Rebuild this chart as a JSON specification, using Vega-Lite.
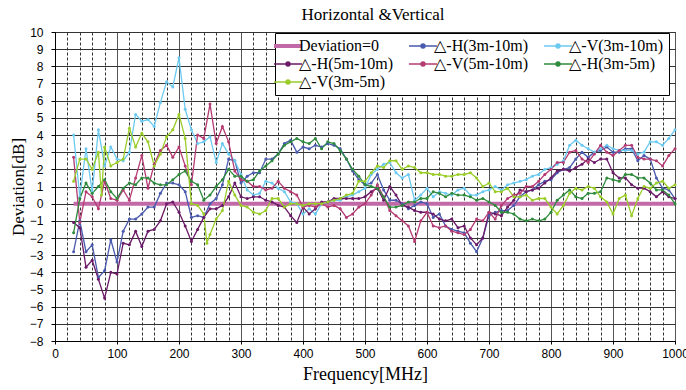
{
"$schema": "https://vega.github.io/schema/vega-lite/v6.json",
"width": 620,
"height": 309,
"autosize": {"type": "none"},
"padding": {"left": 55, "top": 32, "right": 11, "bottom": 49},
"background": "white",
"title": {"text": "Horizontal &Vertical", "font": "Liberation Serif, DejaVu Serif, serif", "fontSize": 17, "fontWeight": "normal", "color": "#000", "anchor": "middle", "offset": 2, "dx": 8},
"config": {
  "view": {"stroke": "#444", "strokeWidth": 1},
  "axis": {"domainColor": "#000", "tickColor": "#000", "labelColor": "#000", "titleColor": "#000", "titleFontWeight": "normal"}
},
"datasets": {
  "zero": [
    {"f": 30, "s": "Deviation=0", "d": 0},
    {"f": 1000, "s": "Deviation=0", "d": 0}
  ],
  "meas": [
{"f":30,"s":"△-H(3m-10m)","d":-2.8},{"f":40,"s":"△-H(3m-10m)","d":-1.0},{"f":50,"s":"△-H(3m-10m)","d":-2.8},{"f":60,"s":"△-H(3m-10m)","d":-2.4},{"f":70,"s":"△-H(3m-10m)","d":-4.3},{"f":80,"s":"△-H(3m-10m)","d":-3.9},{"f":90,"s":"△-H(3m-10m)","d":-2.1},{"f":100,"s":"△-H(3m-10m)","d":-3.4},
{"f":110,"s":"△-H(3m-10m)","d":-1.6},{"f":120,"s":"△-H(3m-10m)","d":-0.9},{"f":130,"s":"△-H(3m-10m)","d":-0.9},{"f":140,"s":"△-H(3m-10m)","d":-0.6},{"f":150,"s":"△-H(3m-10m)","d":-0.2},{"f":160,"s":"△-H(3m-10m)","d":-0.2},{"f":170,"s":"△-H(3m-10m)","d":0.6},{"f":180,"s":"△-H(3m-10m)","d":1.2},{"f":190,"s":"△-H(3m-10m)","d":1.2},{"f":200,"s":"△-H(3m-10m)","d":1.1},
{"f":210,"s":"△-H(3m-10m)","d":0.7},{"f":220,"s":"△-H(3m-10m)","d":-0.8},{"f":230,"s":"△-H(3m-10m)","d":-0.7},{"f":240,"s":"△-H(3m-10m)","d":-0.8},{"f":250,"s":"△-H(3m-10m)","d":0.0},{"f":260,"s":"△-H(3m-10m)","d":0.3},{"f":270,"s":"△-H(3m-10m)","d":1.1},{"f":280,"s":"△-H(3m-10m)","d":2.6},{"f":290,"s":"△-H(3m-10m)","d":2.5},{"f":300,"s":"△-H(3m-10m)","d":1.2},
{"f":310,"s":"△-H(3m-10m)","d":1.6},{"f":320,"s":"△-H(3m-10m)","d":1.8},{"f":330,"s":"△-H(3m-10m)","d":1.8},{"f":340,"s":"△-H(3m-10m)","d":2.6},{"f":350,"s":"△-H(3m-10m)","d":2.6},{"f":360,"s":"△-H(3m-10m)","d":2.9},{"f":370,"s":"△-H(3m-10m)","d":3.5},{"f":380,"s":"△-H(3m-10m)","d":3.7},{"f":390,"s":"△-H(3m-10m)","d":3.0},{"f":400,"s":"△-H(3m-10m)","d":3.3},
{"f":410,"s":"△-H(3m-10m)","d":3.2},{"f":420,"s":"△-H(3m-10m)","d":3.4},{"f":430,"s":"△-H(3m-10m)","d":3.3},{"f":440,"s":"△-H(3m-10m)","d":3.5},{"f":450,"s":"△-H(3m-10m)","d":3.4},{"f":460,"s":"△-H(3m-10m)","d":3.2},{"f":470,"s":"△-H(3m-10m)","d":2.6},{"f":480,"s":"△-H(3m-10m)","d":1.9},{"f":490,"s":"△-H(3m-10m)","d":1.4},{"f":500,"s":"△-H(3m-10m)","d":1.1},
{"f":510,"s":"△-H(3m-10m)","d":1.2},{"f":520,"s":"△-H(3m-10m)","d":1.7},{"f":530,"s":"△-H(3m-10m)","d":0.8},{"f":540,"s":"△-H(3m-10m)","d":0.2},{"f":550,"s":"△-H(3m-10m)","d":0.2},{"f":560,"s":"△-H(3m-10m)","d":0.0},{"f":570,"s":"△-H(3m-10m)","d":-0.3},{"f":580,"s":"△-H(3m-10m)","d":-0.1},{"f":590,"s":"△-H(3m-10m)","d":0.1},{"f":600,"s":"△-H(3m-10m)","d":0.0},
{"f":610,"s":"△-H(3m-10m)","d":-0.8},{"f":620,"s":"△-H(3m-10m)","d":-0.6},{"f":630,"s":"△-H(3m-10m)","d":-1.3},{"f":640,"s":"△-H(3m-10m)","d":-1.5},{"f":650,"s":"△-H(3m-10m)","d":-1.6},{"f":660,"s":"△-H(3m-10m)","d":-1.7},{"f":670,"s":"△-H(3m-10m)","d":-2.3},{"f":680,"s":"△-H(3m-10m)","d":-2.8},{"f":690,"s":"△-H(3m-10m)","d":-2.0},{"f":700,"s":"△-H(3m-10m)","d":-0.7},
{"f":710,"s":"△-H(3m-10m)","d":-0.5},{"f":720,"s":"△-H(3m-10m)","d":-0.4},{"f":730,"s":"△-H(3m-10m)","d":-0.4},{"f":740,"s":"△-H(3m-10m)","d":-0.1},{"f":750,"s":"△-H(3m-10m)","d":0.4},{"f":760,"s":"△-H(3m-10m)","d":0.7},{"f":770,"s":"△-H(3m-10m)","d":0.8},{"f":780,"s":"△-H(3m-10m)","d":1.1},{"f":790,"s":"△-H(3m-10m)","d":1.3},{"f":800,"s":"△-H(3m-10m)","d":1.4},
{"f":810,"s":"△-H(3m-10m)","d":1.8},{"f":820,"s":"△-H(3m-10m)","d":2.0},{"f":830,"s":"△-H(3m-10m)","d":2.1},{"f":840,"s":"△-H(3m-10m)","d":2.6},{"f":850,"s":"△-H(3m-10m)","d":3.0},{"f":860,"s":"△-H(3m-10m)","d":2.7},{"f":870,"s":"△-H(3m-10m)","d":3.0},{"f":880,"s":"△-H(3m-10m)","d":3.1},{"f":890,"s":"△-H(3m-10m)","d":3.3},{"f":900,"s":"△-H(3m-10m)","d":3.0},
{"f":910,"s":"△-H(3m-10m)","d":3.0},{"f":920,"s":"△-H(3m-10m)","d":3.2},{"f":930,"s":"△-H(3m-10m)","d":3.2},{"f":940,"s":"△-H(3m-10m)","d":2.5},{"f":950,"s":"△-H(3m-10m)","d":2.8},{"f":960,"s":"△-H(3m-10m)","d":2.6},{"f":970,"s":"△-H(3m-10m)","d":1.5},{"f":980,"s":"△-H(3m-10m)","d":0.9},{"f":990,"s":"△-H(3m-10m)","d":0.8},{"f":1000,"s":"△-H(3m-10m)","d":0.3},

{"f":30,"s":"△-V(3m-10m)","d":4.0},{"f":40,"s":"△-V(3m-10m)","d":0.4},{"f":50,"s":"△-V(3m-10m)","d":3.2},{"f":60,"s":"△-V(3m-10m)","d":0.7},{"f":70,"s":"△-V(3m-10m)","d":4.3},{"f":80,"s":"△-V(3m-10m)","d":2.2},{"f":90,"s":"△-V(3m-10m)","d":3.3},{"f":100,"s":"△-V(3m-10m)","d":2.6},
{"f":110,"s":"△-V(3m-10m)","d":2.5},{"f":120,"s":"△-V(3m-10m)","d":3.0},{"f":130,"s":"△-V(3m-10m)","d":5.2},{"f":140,"s":"△-V(3m-10m)","d":4.8},{"f":150,"s":"△-V(3m-10m)","d":4.9},{"f":160,"s":"△-V(3m-10m)","d":4.5},{"f":170,"s":"△-V(3m-10m)","d":5.9},{"f":180,"s":"△-V(3m-10m)","d":7.1},{"f":190,"s":"△-V(3m-10m)","d":6.8},{"f":200,"s":"△-V(3m-10m)","d":8.5},
{"f":210,"s":"△-V(3m-10m)","d":5.5},{"f":220,"s":"△-V(3m-10m)","d":4.3},{"f":230,"s":"△-V(3m-10m)","d":3.5},{"f":240,"s":"△-V(3m-10m)","d":3.6},{"f":250,"s":"△-V(3m-10m)","d":3.9},{"f":260,"s":"△-V(3m-10m)","d":2.4},{"f":270,"s":"△-V(3m-10m)","d":3.5},{"f":280,"s":"△-V(3m-10m)","d":2.9},{"f":290,"s":"△-V(3m-10m)","d":2.5},{"f":300,"s":"△-V(3m-10m)","d":1.7},
{"f":310,"s":"△-V(3m-10m)","d":0.8},{"f":320,"s":"△-V(3m-10m)","d":0.5},{"f":330,"s":"△-V(3m-10m)","d":0.6},{"f":340,"s":"△-V(3m-10m)","d":1.3},{"f":350,"s":"△-V(3m-10m)","d":1.2},{"f":360,"s":"△-V(3m-10m)","d":0.9},{"f":370,"s":"△-V(3m-10m)","d":0.7},{"f":380,"s":"△-V(3m-10m)","d":0.1},{"f":390,"s":"△-V(3m-10m)","d":0.0},{"f":400,"s":"△-V(3m-10m)","d":-0.6},
{"f":410,"s":"△-V(3m-10m)","d":-0.3},{"f":420,"s":"△-V(3m-10m)","d":-0.6},{"f":430,"s":"△-V(3m-10m)","d":0.0},{"f":440,"s":"△-V(3m-10m)","d":0.1},{"f":450,"s":"△-V(3m-10m)","d":0.2},{"f":460,"s":"△-V(3m-10m)","d":0.2},{"f":470,"s":"△-V(3m-10m)","d":0.4},{"f":480,"s":"△-V(3m-10m)","d":0.5},{"f":490,"s":"△-V(3m-10m)","d":0.7},{"f":500,"s":"△-V(3m-10m)","d":0.9},
{"f":510,"s":"△-V(3m-10m)","d":1.7},{"f":520,"s":"△-V(3m-10m)","d":2.0},{"f":530,"s":"△-V(3m-10m)","d":2.3},{"f":540,"s":"△-V(3m-10m)","d":2.4},{"f":550,"s":"△-V(3m-10m)","d":1.8},{"f":560,"s":"△-V(3m-10m)","d":1.5},{"f":570,"s":"△-V(3m-10m)","d":1.7},{"f":580,"s":"△-V(3m-10m)","d":0.2},{"f":590,"s":"△-V(3m-10m)","d":0.5},{"f":600,"s":"△-V(3m-10m)","d":0.9},
{"f":610,"s":"△-V(3m-10m)","d":0.4},{"f":620,"s":"△-V(3m-10m)","d":0.7},{"f":630,"s":"△-V(3m-10m)","d":0.6},{"f":640,"s":"△-V(3m-10m)","d":0.5},{"f":650,"s":"△-V(3m-10m)","d":0.8},{"f":660,"s":"△-V(3m-10m)","d":0.9},{"f":670,"s":"△-V(3m-10m)","d":0.5},{"f":680,"s":"△-V(3m-10m)","d":0.5},{"f":690,"s":"△-V(3m-10m)","d":0.7},{"f":700,"s":"△-V(3m-10m)","d":0.8},
{"f":710,"s":"△-V(3m-10m)","d":1.0},{"f":720,"s":"△-V(3m-10m)","d":0.8},{"f":730,"s":"△-V(3m-10m)","d":1.1},{"f":740,"s":"△-V(3m-10m)","d":1.2},{"f":750,"s":"△-V(3m-10m)","d":1.3},{"f":760,"s":"△-V(3m-10m)","d":1.4},{"f":770,"s":"△-V(3m-10m)","d":1.6},{"f":780,"s":"△-V(3m-10m)","d":1.7},{"f":790,"s":"△-V(3m-10m)","d":2.0},{"f":800,"s":"△-V(3m-10m)","d":2.1},
{"f":810,"s":"△-V(3m-10m)","d":2.3},{"f":820,"s":"△-V(3m-10m)","d":2.5},{"f":830,"s":"△-V(3m-10m)","d":3.4},{"f":840,"s":"△-V(3m-10m)","d":3.7},{"f":850,"s":"△-V(3m-10m)","d":3.4},{"f":860,"s":"△-V(3m-10m)","d":3.2},{"f":870,"s":"△-V(3m-10m)","d":3.0},{"f":880,"s":"△-V(3m-10m)","d":3.2},{"f":890,"s":"△-V(3m-10m)","d":3.4},{"f":900,"s":"△-V(3m-10m)","d":3.2},
{"f":910,"s":"△-V(3m-10m)","d":3.1},{"f":920,"s":"△-V(3m-10m)","d":3.1},{"f":930,"s":"△-V(3m-10m)","d":3.1},{"f":940,"s":"△-V(3m-10m)","d":2.9},{"f":950,"s":"△-V(3m-10m)","d":3.0},{"f":960,"s":"△-V(3m-10m)","d":3.6},{"f":970,"s":"△-V(3m-10m)","d":3.6},{"f":980,"s":"△-V(3m-10m)","d":3.4},{"f":990,"s":"△-V(3m-10m)","d":3.8},{"f":1000,"s":"△-V(3m-10m)","d":4.3},

{"f":30,"s":"△-H(5m-10m)","d":-1.1},{"f":40,"s":"△-H(5m-10m)","d":-1.4},{"f":50,"s":"△-H(5m-10m)","d":-3.7},{"f":60,"s":"△-H(5m-10m)","d":-3.3},{"f":70,"s":"△-H(5m-10m)","d":-4.4},{"f":80,"s":"△-H(5m-10m)","d":-5.5},{"f":90,"s":"△-H(5m-10m)","d":-4.0},{"f":100,"s":"△-H(5m-10m)","d":-4.1},
{"f":110,"s":"△-H(5m-10m)","d":-2.3},{"f":120,"s":"△-H(5m-10m)","d":-2.4},{"f":130,"s":"△-H(5m-10m)","d":-1.6},{"f":140,"s":"△-H(5m-10m)","d":-2.5},{"f":150,"s":"△-H(5m-10m)","d":-1.6},{"f":160,"s":"△-H(5m-10m)","d":-1.5},{"f":170,"s":"△-H(5m-10m)","d":-1.0},{"f":180,"s":"△-H(5m-10m)","d":0.0},{"f":190,"s":"△-H(5m-10m)","d":0.1},{"f":200,"s":"△-H(5m-10m)","d":-0.5},
{"f":210,"s":"△-H(5m-10m)","d":-1.3},{"f":220,"s":"△-H(5m-10m)","d":-2.2},{"f":230,"s":"△-H(5m-10m)","d":-1.5},{"f":240,"s":"△-H(5m-10m)","d":-0.8},{"f":250,"s":"△-H(5m-10m)","d":-0.3},{"f":260,"s":"△-H(5m-10m)","d":-0.3},{"f":270,"s":"△-H(5m-10m)","d":-0.1},{"f":280,"s":"△-H(5m-10m)","d":0.4},{"f":290,"s":"△-H(5m-10m)","d":1.2},{"f":300,"s":"△-H(5m-10m)","d":0.4},
{"f":310,"s":"△-H(5m-10m)","d":0.3},{"f":320,"s":"△-H(5m-10m)","d":0.4},{"f":330,"s":"△-H(5m-10m)","d":0.4},{"f":340,"s":"△-H(5m-10m)","d":0.2},{"f":350,"s":"△-H(5m-10m)","d":0.1},{"f":360,"s":"△-H(5m-10m)","d":-0.1},{"f":370,"s":"△-H(5m-10m)","d":-0.2},{"f":380,"s":"△-H(5m-10m)","d":-0.7},{"f":390,"s":"△-H(5m-10m)","d":-1.1},{"f":400,"s":"△-H(5m-10m)","d":-0.2},
{"f":410,"s":"△-H(5m-10m)","d":-0.6},{"f":420,"s":"△-H(5m-10m)","d":-0.3},{"f":430,"s":"△-H(5m-10m)","d":0.1},{"f":440,"s":"△-H(5m-10m)","d":0.1},{"f":450,"s":"△-H(5m-10m)","d":0.3},{"f":460,"s":"△-H(5m-10m)","d":0.3},{"f":470,"s":"△-H(5m-10m)","d":0.3},{"f":480,"s":"△-H(5m-10m)","d":0.3},{"f":490,"s":"△-H(5m-10m)","d":0.3},{"f":500,"s":"△-H(5m-10m)","d":0.4},
{"f":510,"s":"△-H(5m-10m)","d":0.7},{"f":520,"s":"△-H(5m-10m)","d":0.9},{"f":530,"s":"△-H(5m-10m)","d":0.2},{"f":540,"s":"△-H(5m-10m)","d":1.0},{"f":550,"s":"△-H(5m-10m)","d":0.5},{"f":560,"s":"△-H(5m-10m)","d":-0.1},{"f":570,"s":"△-H(5m-10m)","d":-0.2},{"f":580,"s":"△-H(5m-10m)","d":-0.4},{"f":590,"s":"△-H(5m-10m)","d":-0.5},{"f":600,"s":"△-H(5m-10m)","d":-0.5},
{"f":610,"s":"△-H(5m-10m)","d":-0.6},{"f":620,"s":"△-H(5m-10m)","d":-0.9},{"f":630,"s":"△-H(5m-10m)","d":-1.0},{"f":640,"s":"△-H(5m-10m)","d":-0.9},{"f":650,"s":"△-H(5m-10m)","d":-1.4},{"f":660,"s":"△-H(5m-10m)","d":-1.3},{"f":670,"s":"△-H(5m-10m)","d":-2.0},{"f":680,"s":"△-H(5m-10m)","d":-2.4},{"f":690,"s":"△-H(5m-10m)","d":-2.0},{"f":700,"s":"△-H(5m-10m)","d":-0.5},
{"f":710,"s":"△-H(5m-10m)","d":-0.6},{"f":720,"s":"△-H(5m-10m)","d":-0.7},{"f":730,"s":"△-H(5m-10m)","d":-0.2},{"f":740,"s":"△-H(5m-10m)","d":0.2},{"f":750,"s":"△-H(5m-10m)","d":0.8},{"f":760,"s":"△-H(5m-10m)","d":0.7},{"f":770,"s":"△-H(5m-10m)","d":0.8},{"f":780,"s":"△-H(5m-10m)","d":0.9},{"f":790,"s":"△-H(5m-10m)","d":1.2},{"f":800,"s":"△-H(5m-10m)","d":1.5},
{"f":810,"s":"△-H(5m-10m)","d":1.9},{"f":820,"s":"△-H(5m-10m)","d":2.0},{"f":830,"s":"△-H(5m-10m)","d":1.9},{"f":840,"s":"△-H(5m-10m)","d":2.1},{"f":850,"s":"△-H(5m-10m)","d":2.3},{"f":860,"s":"△-H(5m-10m)","d":2.6},{"f":870,"s":"△-H(5m-10m)","d":2.4},{"f":880,"s":"△-H(5m-10m)","d":2.6},{"f":890,"s":"△-H(5m-10m)","d":2.6},{"f":900,"s":"△-H(5m-10m)","d":1.8},
{"f":910,"s":"△-H(5m-10m)","d":1.5},{"f":920,"s":"△-H(5m-10m)","d":1.5},{"f":930,"s":"△-H(5m-10m)","d":1.1},{"f":940,"s":"△-H(5m-10m)","d":0.9},{"f":950,"s":"△-H(5m-10m)","d":0.9},{"f":960,"s":"△-H(5m-10m)","d":0.7},{"f":970,"s":"△-H(5m-10m)","d":0.4},{"f":980,"s":"△-H(5m-10m)","d":0.7},{"f":990,"s":"△-H(5m-10m)","d":0.4},{"f":1000,"s":"△-H(5m-10m)","d":0.3},

{"f":30,"s":"△-V(5m-10m)","d":2.7},{"f":40,"s":"△-V(5m-10m)","d":-1.1},{"f":50,"s":"△-V(5m-10m)","d":0.7},{"f":60,"s":"△-V(5m-10m)","d":0.4},{"f":70,"s":"△-V(5m-10m)","d":-0.3},{"f":80,"s":"△-V(5m-10m)","d":1.3},{"f":90,"s":"△-V(5m-10m)","d":0.3},{"f":100,"s":"△-V(5m-10m)","d":0.2},
{"f":110,"s":"△-V(5m-10m)","d":0.8},{"f":120,"s":"△-V(5m-10m)","d":0.2},{"f":130,"s":"△-V(5m-10m)","d":1.5},{"f":140,"s":"△-V(5m-10m)","d":2.8},{"f":150,"s":"△-V(5m-10m)","d":0.9},{"f":160,"s":"△-V(5m-10m)","d":2.3},{"f":170,"s":"△-V(5m-10m)","d":3.1},{"f":180,"s":"△-V(5m-10m)","d":3.4},{"f":190,"s":"△-V(5m-10m)","d":2.7},{"f":200,"s":"△-V(5m-10m)","d":3.3},
{"f":210,"s":"△-V(5m-10m)","d":2.2},{"f":220,"s":"△-V(5m-10m)","d":1.1},{"f":230,"s":"△-V(5m-10m)","d":4.0},{"f":240,"s":"△-V(5m-10m)","d":3.8},{"f":250,"s":"△-V(5m-10m)","d":5.8},{"f":260,"s":"△-V(5m-10m)","d":3.5},{"f":270,"s":"△-V(5m-10m)","d":4.5},{"f":280,"s":"△-V(5m-10m)","d":3.6},{"f":290,"s":"△-V(5m-10m)","d":1.9},{"f":300,"s":"△-V(5m-10m)","d":1.4},
{"f":310,"s":"△-V(5m-10m)","d":1.3},{"f":320,"s":"△-V(5m-10m)","d":1.0},{"f":330,"s":"△-V(5m-10m)","d":1.0},{"f":340,"s":"△-V(5m-10m)","d":0.8},{"f":350,"s":"△-V(5m-10m)","d":0.9},{"f":360,"s":"△-V(5m-10m)","d":1.3},{"f":370,"s":"△-V(5m-10m)","d":0.9},{"f":380,"s":"△-V(5m-10m)","d":0.7},{"f":390,"s":"△-V(5m-10m)","d":0.5},{"f":400,"s":"△-V(5m-10m)","d":-0.2},
{"f":410,"s":"△-V(5m-10m)","d":-0.1},{"f":420,"s":"△-V(5m-10m)","d":-0.2},{"f":430,"s":"△-V(5m-10m)","d":0.0},{"f":440,"s":"△-V(5m-10m)","d":-0.2},{"f":450,"s":"△-V(5m-10m)","d":-0.1},{"f":460,"s":"△-V(5m-10m)","d":-0.3},{"f":470,"s":"△-V(5m-10m)","d":-0.8},{"f":480,"s":"△-V(5m-10m)","d":-0.6},{"f":490,"s":"△-V(5m-10m)","d":-0.2},{"f":500,"s":"△-V(5m-10m)","d":0.0},
{"f":510,"s":"△-V(5m-10m)","d":0.5},{"f":520,"s":"△-V(5m-10m)","d":1.1},{"f":530,"s":"△-V(5m-10m)","d":0.4},{"f":540,"s":"△-V(5m-10m)","d":-0.4},{"f":550,"s":"△-V(5m-10m)","d":-0.7},{"f":560,"s":"△-V(5m-10m)","d":-1.0},{"f":570,"s":"△-V(5m-10m)","d":-1.3},{"f":580,"s":"△-V(5m-10m)","d":-2.2},{"f":590,"s":"△-V(5m-10m)","d":-1.0},{"f":600,"s":"△-V(5m-10m)","d":-0.5},
{"f":610,"s":"△-V(5m-10m)","d":-1.3},{"f":620,"s":"△-V(5m-10m)","d":-1.4},{"f":630,"s":"△-V(5m-10m)","d":-1.3},{"f":640,"s":"△-V(5m-10m)","d":-1.6},{"f":650,"s":"△-V(5m-10m)","d":-1.7},{"f":660,"s":"△-V(5m-10m)","d":-1.8},{"f":670,"s":"△-V(5m-10m)","d":-1.5},{"f":680,"s":"△-V(5m-10m)","d":-0.9},{"f":690,"s":"△-V(5m-10m)","d":-1.0},{"f":700,"s":"△-V(5m-10m)","d":-0.5},
{"f":710,"s":"△-V(5m-10m)","d":-0.9},{"f":720,"s":"△-V(5m-10m)","d":-0.1},{"f":730,"s":"△-V(5m-10m)","d":0.3},{"f":740,"s":"△-V(5m-10m)","d":0.5},{"f":750,"s":"△-V(5m-10m)","d":0.6},{"f":760,"s":"△-V(5m-10m)","d":1.0},{"f":770,"s":"△-V(5m-10m)","d":1.0},{"f":780,"s":"△-V(5m-10m)","d":1.3},{"f":790,"s":"△-V(5m-10m)","d":1.7},{"f":800,"s":"△-V(5m-10m)","d":2.0},
{"f":810,"s":"△-V(5m-10m)","d":2.4},{"f":820,"s":"△-V(5m-10m)","d":2.4},{"f":830,"s":"△-V(5m-10m)","d":3.0},{"f":840,"s":"△-V(5m-10m)","d":3.1},{"f":850,"s":"△-V(5m-10m)","d":2.6},{"f":860,"s":"△-V(5m-10m)","d":2.4},{"f":870,"s":"△-V(5m-10m)","d":2.9},{"f":880,"s":"△-V(5m-10m)","d":3.4},{"f":890,"s":"△-V(5m-10m)","d":3.0},{"f":900,"s":"△-V(5m-10m)","d":2.8},
{"f":910,"s":"△-V(5m-10m)","d":3.1},{"f":920,"s":"△-V(5m-10m)","d":3.4},{"f":930,"s":"△-V(5m-10m)","d":3.4},{"f":940,"s":"△-V(5m-10m)","d":2.7},{"f":950,"s":"△-V(5m-10m)","d":2.6},{"f":960,"s":"△-V(5m-10m)","d":2.6},{"f":970,"s":"△-V(5m-10m)","d":2.5},{"f":980,"s":"△-V(5m-10m)","d":2.2},{"f":990,"s":"△-V(5m-10m)","d":2.8},{"f":1000,"s":"△-V(5m-10m)","d":3.2},

{"f":30,"s":"△-H(3m-5m)","d":-1.7},{"f":40,"s":"△-H(3m-5m)","d":0.3},{"f":50,"s":"△-H(3m-5m)","d":1.2},{"f":60,"s":"△-H(3m-5m)","d":0.6},{"f":70,"s":"△-H(3m-5m)","d":1.0},{"f":80,"s":"△-H(3m-5m)","d":1.4},{"f":90,"s":"△-H(3m-5m)","d":0.7},{"f":100,"s":"△-H(3m-5m)","d":0.3},
{"f":110,"s":"△-H(3m-5m)","d":0.9},{"f":120,"s":"△-H(3m-5m)","d":1.2},{"f":130,"s":"△-H(3m-5m)","d":1.1},{"f":140,"s":"△-H(3m-5m)","d":1.5},{"f":150,"s":"△-H(3m-5m)","d":1.5},{"f":160,"s":"△-H(3m-5m)","d":1.2},{"f":170,"s":"△-H(3m-5m)","d":1.1},{"f":180,"s":"△-H(3m-5m)","d":1.1},{"f":190,"s":"△-H(3m-5m)","d":1.4},{"f":200,"s":"△-H(3m-5m)","d":1.7},
{"f":210,"s":"△-H(3m-5m)","d":1.9},{"f":220,"s":"△-H(3m-5m)","d":1.3},{"f":230,"s":"△-H(3m-5m)","d":1.1},{"f":240,"s":"△-H(3m-5m)","d":0.2},{"f":250,"s":"△-H(3m-5m)","d":0.5},{"f":260,"s":"△-H(3m-5m)","d":1.0},{"f":270,"s":"△-H(3m-5m)","d":1.4},{"f":280,"s":"△-H(3m-5m)","d":2.0},{"f":290,"s":"△-H(3m-5m)","d":1.6},{"f":300,"s":"△-H(3m-5m)","d":1.6},
{"f":310,"s":"△-H(3m-5m)","d":1.3},{"f":320,"s":"△-H(3m-5m)","d":1.4},{"f":330,"s":"△-H(3m-5m)","d":1.9},{"f":340,"s":"△-H(3m-5m)","d":2.2},{"f":350,"s":"△-H(3m-5m)","d":2.5},{"f":360,"s":"△-H(3m-5m)","d":2.9},{"f":370,"s":"△-H(3m-5m)","d":3.4},{"f":380,"s":"△-H(3m-5m)","d":3.6},{"f":390,"s":"△-H(3m-5m)","d":3.8},{"f":400,"s":"△-H(3m-5m)","d":3.6},
{"f":410,"s":"△-H(3m-5m)","d":3.5},{"f":420,"s":"△-H(3m-5m)","d":3.8},{"f":430,"s":"△-H(3m-5m)","d":3.2},{"f":440,"s":"△-H(3m-5m)","d":3.6},{"f":450,"s":"△-H(3m-5m)","d":3.5},{"f":460,"s":"△-H(3m-5m)","d":3.1},{"f":470,"s":"△-H(3m-5m)","d":2.6},{"f":480,"s":"△-H(3m-5m)","d":2.0},{"f":490,"s":"△-H(3m-5m)","d":1.6},{"f":500,"s":"△-H(3m-5m)","d":1.1},
{"f":510,"s":"△-H(3m-5m)","d":1.0},{"f":520,"s":"△-H(3m-5m)","d":0.9},{"f":530,"s":"△-H(3m-5m)","d":0.4},{"f":540,"s":"△-H(3m-5m)","d":-0.2},{"f":550,"s":"△-H(3m-5m)","d":-0.2},{"f":560,"s":"△-H(3m-5m)","d":-0.1},{"f":570,"s":"△-H(3m-5m)","d":0.1},{"f":580,"s":"△-H(3m-5m)","d":0.1},{"f":590,"s":"△-H(3m-5m)","d":0.3},{"f":600,"s":"△-H(3m-5m)","d":0.3},
{"f":610,"s":"△-H(3m-5m)","d":0.7},{"f":620,"s":"△-H(3m-5m)","d":0.6},{"f":630,"s":"△-H(3m-5m)","d":0.4},{"f":640,"s":"△-H(3m-5m)","d":0.6},{"f":650,"s":"△-H(3m-5m)","d":0.5},{"f":660,"s":"△-H(3m-5m)","d":0.5},{"f":670,"s":"△-H(3m-5m)","d":0.4},{"f":680,"s":"△-H(3m-5m)","d":0.2},{"f":690,"s":"△-H(3m-5m)","d":0.3},{"f":700,"s":"△-H(3m-5m)","d":0.1},
{"f":710,"s":"△-H(3m-5m)","d":-0.1},{"f":720,"s":"△-H(3m-5m)","d":-0.5},{"f":730,"s":"△-H(3m-5m)","d":-0.5},{"f":740,"s":"△-H(3m-5m)","d":-0.6},{"f":750,"s":"△-H(3m-5m)","d":-0.9},{"f":760,"s":"△-H(3m-5m)","d":-1.0},{"f":770,"s":"△-H(3m-5m)","d":-0.9},{"f":780,"s":"△-H(3m-5m)","d":-1.0},{"f":790,"s":"△-H(3m-5m)","d":-0.9},{"f":800,"s":"△-H(3m-5m)","d":-0.5},
{"f":810,"s":"△-H(3m-5m)","d":0.2},{"f":820,"s":"△-H(3m-5m)","d":0.5},{"f":830,"s":"△-H(3m-5m)","d":0.8},{"f":840,"s":"△-H(3m-5m)","d":0.4},{"f":850,"s":"△-H(3m-5m)","d":0.3},{"f":860,"s":"△-H(3m-5m)","d":0.6},{"f":870,"s":"△-H(3m-5m)","d":0.6},{"f":880,"s":"△-H(3m-5m)","d":0.7},{"f":890,"s":"△-H(3m-5m)","d":1.5},{"f":900,"s":"△-H(3m-5m)","d":1.4},
{"f":910,"s":"△-H(3m-5m)","d":1.3},{"f":920,"s":"△-H(3m-5m)","d":1.7},{"f":930,"s":"△-H(3m-5m)","d":1.7},{"f":940,"s":"△-H(3m-5m)","d":1.5},{"f":950,"s":"△-H(3m-5m)","d":1.5},{"f":960,"s":"△-H(3m-5m)","d":1.2},{"f":970,"s":"△-H(3m-5m)","d":0.8},{"f":980,"s":"△-H(3m-5m)","d":0.8},{"f":990,"s":"△-H(3m-5m)","d":0.5},{"f":1000,"s":"△-H(3m-5m)","d":0.0},

{"f":30,"s":"△-V(3m-5m)","d":1.3},{"f":40,"s":"△-V(3m-5m)","d":2.6},{"f":50,"s":"△-V(3m-5m)","d":2.6},{"f":60,"s":"△-V(3m-5m)","d":2.0},{"f":70,"s":"△-V(3m-5m)","d":3.0},{"f":75,"s":"△-V(3m-5m)","d":0.5},{"f":80,"s":"△-V(3m-5m)","d":3.3},{"f":90,"s":"△-V(3m-5m)","d":2.2},{"f":100,"s":"△-V(3m-5m)","d":2.4},
{"f":110,"s":"△-V(3m-5m)","d":2.6},{"f":120,"s":"△-V(3m-5m)","d":4.4},{"f":130,"s":"△-V(3m-5m)","d":3.3},{"f":140,"s":"△-V(3m-5m)","d":4.1},{"f":150,"s":"△-V(3m-5m)","d":3.6},{"f":160,"s":"△-V(3m-5m)","d":2.2},{"f":170,"s":"△-V(3m-5m)","d":2.9},{"f":180,"s":"△-V(3m-5m)","d":3.9},{"f":190,"s":"△-V(3m-5m)","d":4.3},{"f":200,"s":"△-V(3m-5m)","d":5.2},
{"f":210,"s":"△-V(3m-5m)","d":3.8},{"f":220,"s":"△-V(3m-5m)","d":0.0},{"f":230,"s":"△-V(3m-5m)","d":-0.1},{"f":240,"s":"△-V(3m-5m)","d":-0.6},{"f":245,"s":"△-V(3m-5m)","d":-2.3},{"f":250,"s":"△-V(3m-5m)","d":-1.8},{"f":260,"s":"△-V(3m-5m)","d":-0.9},{"f":270,"s":"△-V(3m-5m)","d":-0.4},{"f":280,"s":"△-V(3m-5m)","d":1.3},{"f":290,"s":"△-V(3m-5m)","d":0.5},{"f":300,"s":"△-V(3m-5m)","d":-0.1},
{"f":310,"s":"△-V(3m-5m)","d":-0.2},{"f":320,"s":"△-V(3m-5m)","d":-0.5},{"f":330,"s":"△-V(3m-5m)","d":-0.6},{"f":340,"s":"△-V(3m-5m)","d":-0.4},{"f":350,"s":"△-V(3m-5m)","d":0.3},{"f":360,"s":"△-V(3m-5m)","d":0.3},{"f":370,"s":"△-V(3m-5m)","d":-0.2},{"f":380,"s":"△-V(3m-5m)","d":0.0},{"f":390,"s":"△-V(3m-5m)","d":0.0},{"f":400,"s":"△-V(3m-5m)","d":-0.1},
{"f":410,"s":"△-V(3m-5m)","d":0.0},{"f":420,"s":"△-V(3m-5m)","d":0.0},{"f":430,"s":"△-V(3m-5m)","d":0.0},{"f":440,"s":"△-V(3m-5m)","d":0.1},{"f":450,"s":"△-V(3m-5m)","d":0.2},{"f":460,"s":"△-V(3m-5m)","d":0.3},{"f":470,"s":"△-V(3m-5m)","d":0.5},{"f":480,"s":"△-V(3m-5m)","d":0.6},{"f":490,"s":"△-V(3m-5m)","d":1.3},{"f":500,"s":"△-V(3m-5m)","d":1.3},
{"f":510,"s":"△-V(3m-5m)","d":1.8},{"f":520,"s":"△-V(3m-5m)","d":2.2},{"f":530,"s":"△-V(3m-5m)","d":2.1},{"f":540,"s":"△-V(3m-5m)","d":2.5},{"f":550,"s":"△-V(3m-5m)","d":2.5},{"f":560,"s":"△-V(3m-5m)","d":2.0},{"f":570,"s":"△-V(3m-5m)","d":2.2},{"f":580,"s":"△-V(3m-5m)","d":2.1},{"f":590,"s":"△-V(3m-5m)","d":1.8},{"f":600,"s":"△-V(3m-5m)","d":1.8},
{"f":610,"s":"△-V(3m-5m)","d":1.7},{"f":620,"s":"△-V(3m-5m)","d":1.7},{"f":630,"s":"△-V(3m-5m)","d":1.6},{"f":640,"s":"△-V(3m-5m)","d":1.6},{"f":650,"s":"△-V(3m-5m)","d":1.7},{"f":660,"s":"△-V(3m-5m)","d":1.7},{"f":670,"s":"△-V(3m-5m)","d":1.8},{"f":680,"s":"△-V(3m-5m)","d":1.5},{"f":690,"s":"△-V(3m-5m)","d":1.0},{"f":700,"s":"△-V(3m-5m)","d":1.2},
{"f":710,"s":"△-V(3m-5m)","d":0.7},{"f":720,"s":"△-V(3m-5m)","d":0.7},{"f":730,"s":"△-V(3m-5m)","d":0.9},{"f":740,"s":"△-V(3m-5m)","d":0.4},{"f":750,"s":"△-V(3m-5m)","d":0.4},{"f":760,"s":"△-V(3m-5m)","d":0.5},{"f":770,"s":"△-V(3m-5m)","d":0.2},{"f":780,"s":"△-V(3m-5m)","d":0.3},{"f":790,"s":"△-V(3m-5m)","d":0.3},{"f":800,"s":"△-V(3m-5m)","d":-0.2},
{"f":810,"s":"△-V(3m-5m)","d":-0.6},{"f":820,"s":"△-V(3m-5m)","d":-0.1},{"f":830,"s":"△-V(3m-5m)","d":0.6},{"f":840,"s":"△-V(3m-5m)","d":0.9},{"f":850,"s":"△-V(3m-5m)","d":0.8},{"f":860,"s":"△-V(3m-5m)","d":1.0},{"f":870,"s":"△-V(3m-5m)","d":0.9},{"f":880,"s":"△-V(3m-5m)","d":0.4},{"f":890,"s":"△-V(3m-5m)","d":0.1},{"f":900,"s":"△-V(3m-5m)","d":-0.6},
{"f":910,"s":"△-V(3m-5m)","d":0.3},{"f":920,"s":"△-V(3m-5m)","d":0.5},{"f":930,"s":"△-V(3m-5m)","d":-0.7},{"f":940,"s":"△-V(3m-5m)","d":0.3},{"f":950,"s":"△-V(3m-5m)","d":1.0},{"f":960,"s":"△-V(3m-5m)","d":0.9},{"f":970,"s":"△-V(3m-5m)","d":1.2},{"f":980,"s":"△-V(3m-5m)","d":1.3},{"f":990,"s":"△-V(3m-5m)","d":0.9},{"f":1000,"s":"△-V(3m-5m)","d":1.1}
  ]
},
"encoding": {
  "x": {"field": "f", "type": "quantitative", "scale": {"domain": [0, 1000], "nice": false},
    "axis": {"title": "Frequency[MHz]", "values": [0,20,40,60,80,100,120,140,160,180,200,220,240,260,280,300,320,340,360,380,400,420,440,460,480,500,520,540,560,580,600,620,640,660,680,700,720,740,760,780,800,820,840,860,880,900,920,940,960,980,1000],
      "labelExpr": "datum.value % 100 === 0 ? format(datum.value, 'd') : ''", "labelOverlap": false, "labelFlush": false, "labelBound": false,
      "labelFont": "Liberation Sans", "labelFontSize": 12, "labelPadding": 4,
      "grid": true,
      "gridColor": {"condition": {"test": "datum.value % 100 === 0", "value": "#555"}, "value": "#333"},
      "gridDash": {"condition": {"test": "datum.value % 100 === 0", "value": []}, "value": [3, 2]},
      "gridWidth": 1,
      "tickSize": {"condition": {"test": "datum.value % 100 === 0", "value": 3}, "value": 0},
      "titleFont": "Liberation Serif, DejaVu Serif, serif", "titleFontSize": 18, "titleY": 38, "titleBaseline": "alphabetic"}},
  "y": {"field": "d", "type": "quantitative", "scale": {"domain": [-8, 10], "nice": false, "zero": false},
    "axis": {"title": "Deviation[dB]", "values": [-8,-7,-6,-5,-4,-3,-2,-1,0,1,2,3,4,5,6,7,8,9,10],
      "labelFont": "Liberation Sans", "labelFontSize": 12, "labelPadding": 8, "tickSize": 4,
      "grid": true, "gridColor": "#333", "gridWidth": 1,
      "titleFont": "Liberation Serif, DejaVu Serif, serif", "titleFontSize": 17, "titleX": -37, "titleY": 154.5, "titleBaseline": "middle", "titleAngle": -90}},
  "color": {"field": "s", "type": "nominal",
    "scale": {"domain": ["Deviation=0", "△-H(3m-10m)", "△-V(3m-10m)", "△-H(5m-10m)", "△-V(5m-10m)", "△-H(3m-5m)", "△-V(3m-5m)"],
      "range": ["#c26aa8", "#4a5aad", "#6ccaf0", "#6b1a67", "#b53b73", "#2e8b3c", "#9acd2a"]},
    "legend": {"title": null, "orient": "none", "legendX": 220, "legendY": 1, "columns": 3, "direction": "horizontal",
      "columnPadding": 12, "rowPadding": 2, "padding": 5,
      "fillColor": "white", "strokeColor": "#000",
      "labelFont": "Liberation Serif, DejaVu Serif, serif", "labelFontSize": 16, "labelColor": "#000", "labelLimit": 300, "labelOffset": 3,
      "symbolSize": 784,
      "encode": {"symbols": {"update": {
        "shape": {"signal": "datum.value === 'Deviation=0' ? 'M-1,0H1' : 'M-1,0H1M-0.14,0A0.14,0.14,0,1,1,0.14,0A0.14,0.14,0,1,1,-0.14,0Z'"},
        "strokeWidth": {"signal": "datum.value === 'Deviation=0' ? 4 : 1.5"},
        "fill": {"scale": "color", "field": "value"},
        "stroke": {"scale": "color", "field": "value"}}}}}}
},
"layer": [
  {"data": {"name": "zero"}, "mark": {"type": "line", "strokeWidth": 4}},
  {"data": {"name": "meas"}, "mark": {"type": "line", "strokeWidth": 1.3, "point": {"filled": true, "size": 9}}}
]
}
